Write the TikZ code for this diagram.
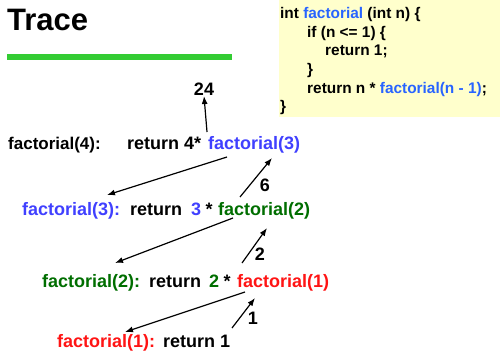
\documentclass[tikz,border=0pt]{standalone}
\usepackage{fontspec}
\setmainfont{Liberation Sans}
\usetikzlibrary{arrows.meta}
\definecolor{tblue}{RGB}{64,64,255}
\definecolor{cblue}{RGB}{40,100,255}
\definecolor{tgreen}{RGB}{0,110,0}
\definecolor{tred}{RGB}{255,20,20}
\definecolor{codebg}{RGB}{255,255,204}
\definecolor{rule}{RGB}{51,204,51}
\tikzset{
  txt/.style={anchor=base west,inner sep=0pt,font=\fontsize{18}{20}\selectfont\bfseries},
  code/.style={anchor=base west,inner sep=0pt,font=\fontsize{15.4}{18}\selectfont\bfseries},
  lbl/.style={inner sep=0pt,font=\fontsize{18}{20}\selectfont\bfseries},
  arr/.style={-{Latex[length=8pt,width=6pt]},line width=1.2pt,black}
}
\begin{document}
\begin{tikzpicture}[x=1pt,y=-1pt]
\useasboundingbox (0,0) rectangle (500,353);
% title
\node[anchor=base west,inner sep=0pt,font=\fontsize{31}{34}\selectfont\bfseries] (title) at (7,31) {Trace};
\fill[rule] (7,54.5) rectangle (232,59.5);
% code box
\fill[codebg] (279,0) rectangle (500,117);
\node[code] (k1) at (280,19) {int \textcolor{cblue}{factorial} (int n) \{};
\node[code] (k2) at (307,37.5) {if (n <= 1) \{};
\node[code] (k3) at (325,56) {return 1;};
\node[code] (k4) at (307,74.5) {\}};
\node[code] (k5) at (307,93) {return n * \textcolor{cblue}{factorial(n - 1)};};
\node[code] (k6) at (280,111.5) {\}};
% line 1
\node[lbl] (v24) at (204,89.5) {24};
\node[txt,font=\fontsize{17}{20}\selectfont\bfseries] (l1a) at (8,149) {factorial(4):};
\node[txt] (l1b) at (127,149) {return 4*};
\node[txt,text=tblue] (l1c) at (208,149) {factorial(3)};
% line 2
\node[txt,text=tblue] (l2a) at (22,215) {factorial(3):};
\node[txt] (l2b) at (130,215) {return};
\node[txt,text=tblue] (l2c) at (191,215) {3};
\node[txt] (l2d) at (205.5,215) {*};
\node[txt,text=tgreen] (l2e) at (218,215) {factorial(2)};
% line 3
\node[txt,text=tgreen] (l3a) at (42,287) {factorial(2):};
\node[txt] (l3b) at (149,287) {return};
\node[txt,text=tgreen] (l3c) at (209,287) {2};
\node[txt] (l3d) at (223.5,287) {*};
\node[txt,text=tred] (l3e) at (237,287) {factorial(1)};
% line 4
\node[txt,text=tred] (l4a) at (57,347) {factorial(1):};
\node[txt] (l4b) at (163,347) {return 1};
% return-value labels
\node[lbl] (v6) at (265,185) {6};
\node[lbl] (v2) at (260,254) {2};
\node[lbl] (v1) at (253,318) {1};
% connector end points
\coordinate (a0) at (207,132);
\coordinate (c1s) at (227,157);
\coordinate (c1e) at (107,195);
\coordinate (r6s) at (240,197);
\coordinate (r6e) at (272,158);
\coordinate (c2s) at (233,218);
\coordinate (c2e) at (115,263);
\coordinate (r2s) at (242,263);
\coordinate (r2e) at (267,228);
\coordinate (c3s) at (245,292);
\coordinate (c3e) at (125,332);
\coordinate (r1s) at (232,328);
\coordinate (r1e) at (255,298);
\draw[arr] (a0) -- (v24.south);
\draw[arr] (c1s) -- (c1e);
\draw[arr] (r6s) -- (r6e);
\draw[arr] (c2s) -- (c2e);
\draw[arr] (r2s) -- (r2e);
\draw[arr] (c3s) -- (c3e);
\draw[arr] (r1s) -- (r1e);
\end{tikzpicture}
\end{document}
